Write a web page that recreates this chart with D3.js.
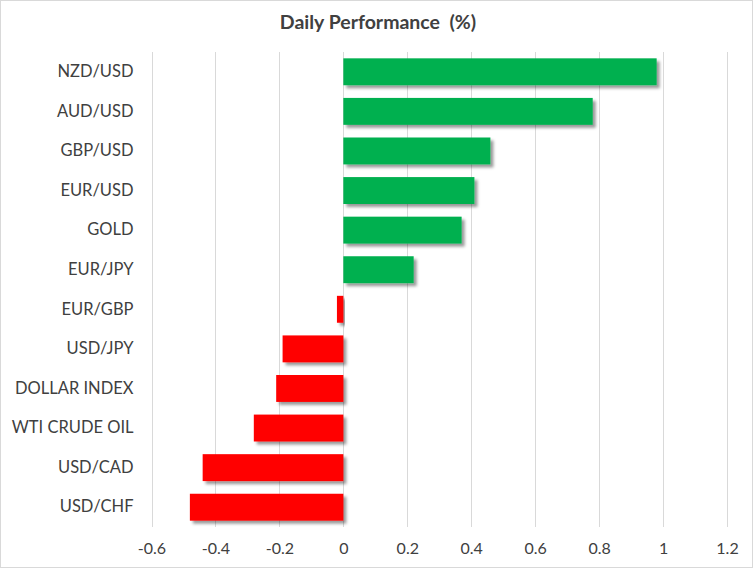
<!DOCTYPE html>
<html>
<head>
<meta charset="utf-8">
<script src="https://cdn.jsdelivr.net/npm/d3@7"></script>
<style>
  body { margin: 0; background: #fff; }
  svg { display: block; font-family: Lato, "Open Sans", sans-serif; }
</style>
</head>
<body>
<script>
// values
const categories = ["NZD/USD", "AUD/USD", "GBP/USD", "EUR/USD", "GOLD", "EUR/JPY",
  "EUR/GBP", "USD/JPY", "DOLLAR INDEX", "WTI CRUDE OIL", "USD/CAD", "USD/CHF"];
const values = [0.98, 0.78, 0.46, 0.41, 0.37, 0.22, -0.02, -0.19, -0.21, -0.28, -0.44, -0.48];
const xTicks = [-0.6, -0.4, -0.2, 0, 0.2, 0.4, 0.6, 0.8, 1, 1.2];

const width = 753, height = 568;
const margin = {top: 52, right: 26, bottom: 41, left: 151.5};

const data = categories.map((name, i) => ({name, value: values[i]}));

const svg = d3.select("body").append("svg")
    .attr("width", width)
    .attr("height", height);

svg.append("rect")
    .attr("x", 0.5).attr("y", 0.5)
    .attr("width", width - 1).attr("height", height - 1)
    .attr("fill", "#fff")
    .attr("stroke", "#d9d9d9");

const defs = svg.append("defs");
const f = defs.append("filter").attr("id", "shadow")
    .attr("x", "-10%").attr("y", "-20%").attr("width", "130%").attr("height", "160%");
f.append("feDropShadow")
    .attr("dx", 3).attr("dy", 3).attr("stdDeviation", 1.6)
    .attr("flood-color", "#000").attr("flood-opacity", 0.4);

const x = d3.scaleLinear()
    .domain([-0.6, 1.2])
    .range([margin.left, width - margin.right]);

const y = d3.scaleBand()
    .domain(categories)
    .range([margin.top, height - margin.bottom])
    .paddingInner(0.32)
    .paddingOuter(0.16);

// gridlines
svg.append("g")
  .selectAll("line")
  .data(xTicks)
  .join("line")
    .attr("x1", d => Math.round(x(d)) + 0.5)
    .attr("x2", d => Math.round(x(d)) + 0.5)
    .attr("y1", margin.top)
    .attr("y2", height - margin.bottom)
    .attr("stroke", "#d9d9d9")
    .attr("stroke-width", 1);

// bars
svg.append("g")
  .selectAll("rect")
  .data(data)
  .join("rect")
    .attr("x", d => x(Math.min(0, d.value)))
    .attr("y", d => y(d.name))
    .attr("width", d => Math.abs(x(d.value) - x(0)))
    .attr("height", y.bandwidth())
    .attr("fill", d => d.value >= 0 ? "#00b050" : "#ff0000")
    .attr("filter", "url(#shadow)");

// category labels
const yAxis = g => g
    .attr("transform", `translate(${margin.left - 18},0)`)
    .call(d3.axisLeft(y).tickSize(0).tickPadding(0))
    .call(g => g.select(".domain").remove())
    .call(g => g.selectAll("text")
        .attr("font-size", 16.5)
        .attr("fill", "#404040")
        .attr("font-family", "Lato, 'Open Sans', sans-serif"));
svg.append("g").call(yAxis);

// x axis labels
const xAxis = g => g
    .attr("transform", `translate(0,${height - margin.bottom})`)
    .call(d3.axisBottom(x).tickValues(xTicks).tickFormat(d => String(d)).tickSize(0).tickPadding(16))
    .call(g => g.select(".domain").remove())
    .call(g => g.selectAll("text")
        .attr("font-size", 16)
        .attr("fill", "#404040")
        .attr("font-family", "Lato, 'Open Sans', sans-serif"));
svg.append("g").call(xAxis);

svg.append("text")
    .attr("x", 378)
    .attr("y", 29)
    .attr("text-anchor", "middle")
    .attr("font-size", 19.5)
    .attr("font-weight", "bold")
    .attr("fill", "#404040")
    .attr("xml:space", "preserve")
    .text("Daily Performance  (%)");
</script>
</body>
</html>
